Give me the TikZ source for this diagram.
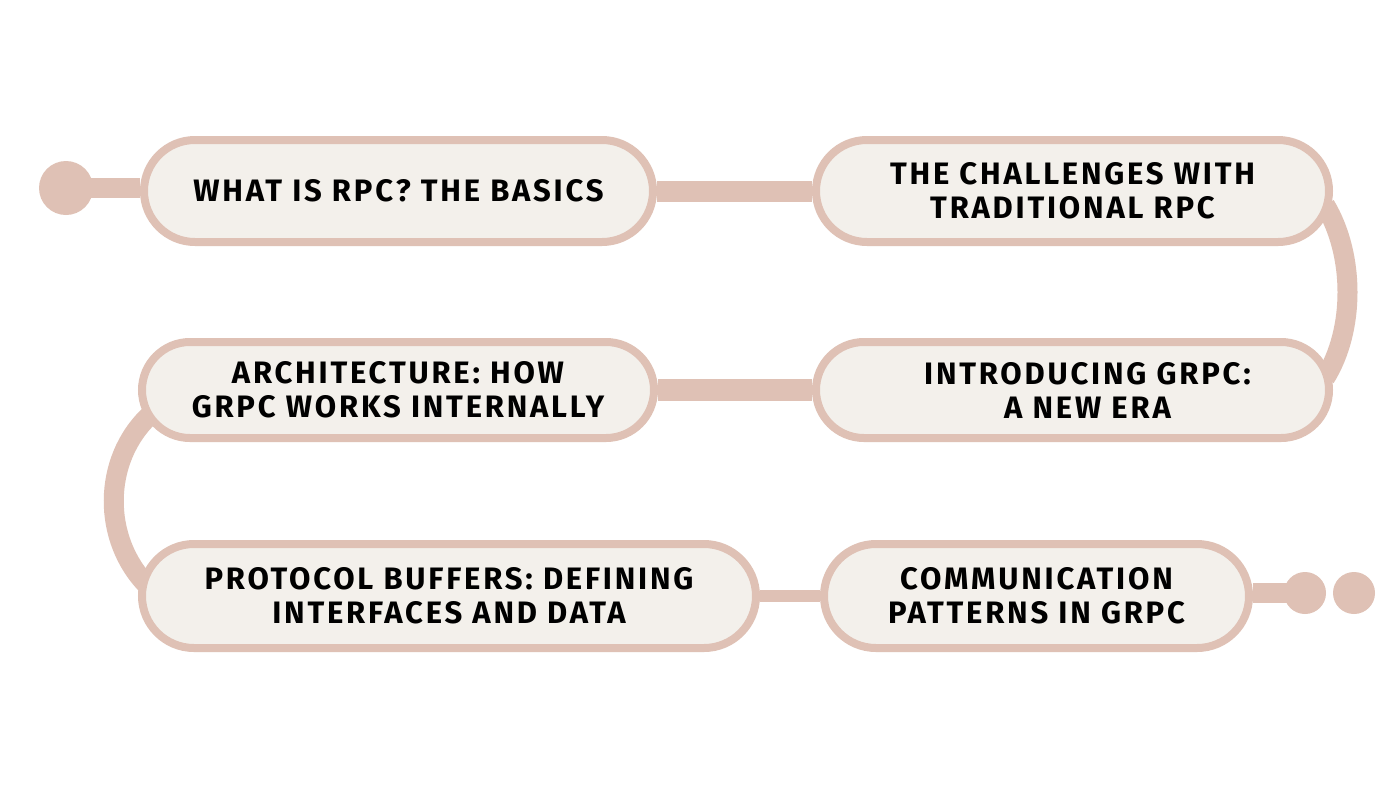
\documentclass[tikz,border=0pt]{standalone}
\usepackage{fontspec}
\setmainfont{Fira Sans}
\newfontfamily\pillfont[LetterSpace=9]{Fira Sans}
\usetikzlibrary{shapes.misc,calc}
\definecolor{rim}{HTML}{DFC1B5}
\definecolor{pillfill}{HTML}{F3F0EB}
\pgfdeclarelayer{canvas}
\pgfdeclarelayer{bg}
\pgfsetlayers{canvas,bg,main}
\tikzset{
  pill/.style={rounded rectangle, draw=rim, fill=pillfill, line width=8pt,
    align=center, inner sep=0pt, font=\pillfont\bfseries\fontsize{31}{34}\selectfont, text=black},
  dot/.style={circle, fill=rim, inner sep=0pt},
  link/.style={draw=rim, line width=#1},
}
\begin{document}
\begin{tikzpicture}[x=1pt,y=-1pt]
\begin{pgfonlayer}{canvas}
\fill[white] (0,0) rectangle (1400,788);
\end{pgfonlayer}
\useasboundingbox (0,0) rectangle (1400,788);
\node[pill, minimum width=509pt, minimum height=102pt] (n1) at (398.5,191) {WHAT IS RPC? THE BASICS};
\node[pill, minimum width=513pt, minimum height=102pt] (n2) at (1072.5,191) {THE CHALLENGES WITH\\TRADITIONAL RPC};
\node[pill, minimum width=513pt, minimum height=96pt] (n3) at (1072.5,390) {\hspace*{30pt}INTRODUCING GRPC:\\\hspace*{30pt}A NEW ERA};
\node[pill, minimum width=512pt, minimum height=96pt] (n4) at (398,390) {ARCHITECTURE: HOW\\GRPC WORKS INTERNALLY};
\node[pill, minimum width=614pt, minimum height=104pt] (n5) at (449,596) {PROTOCOL BUFFERS: DEFINING\\INTERFACES AND DATA};
\node[pill, minimum width=425pt, minimum height=104pt] (n6) at (1036.5,596) {COMMUNICATION\\PATTERNS IN GRPC};
\node[dot, minimum size=54pt] (s) at (66,188) {};
\node[dot, minimum size=42pt] (e1) at (1305,593) {};
\node[dot, minimum size=42pt] (e2) at (1354,593) {};
\begin{pgfonlayer}{bg}
\draw[link=20pt] (s.center) -- (s.center -| n1.west);
\draw[link=21pt] (n1.east) -- (n2.west);
\draw[link=20pt] ($(n2.east)+(-8,14)$) .. controls (1355,255) and (1355,330) .. ($(n3.east)+(-8,-12)$);
\draw[link=22pt] (n3.west) -- (n4.east);
\draw[link=20pt] ($(n4.west)+(12,25)$) .. controls (102,460) and (102,540) .. ($(n5.west)+(10,-10)$);
\draw[link=12pt] (n5.east) -- (n6.west);
\draw[link=20pt] (e1.center -| n6.east) -- (e1.center);
\end{pgfonlayer}
\end{tikzpicture}
\end{document}
